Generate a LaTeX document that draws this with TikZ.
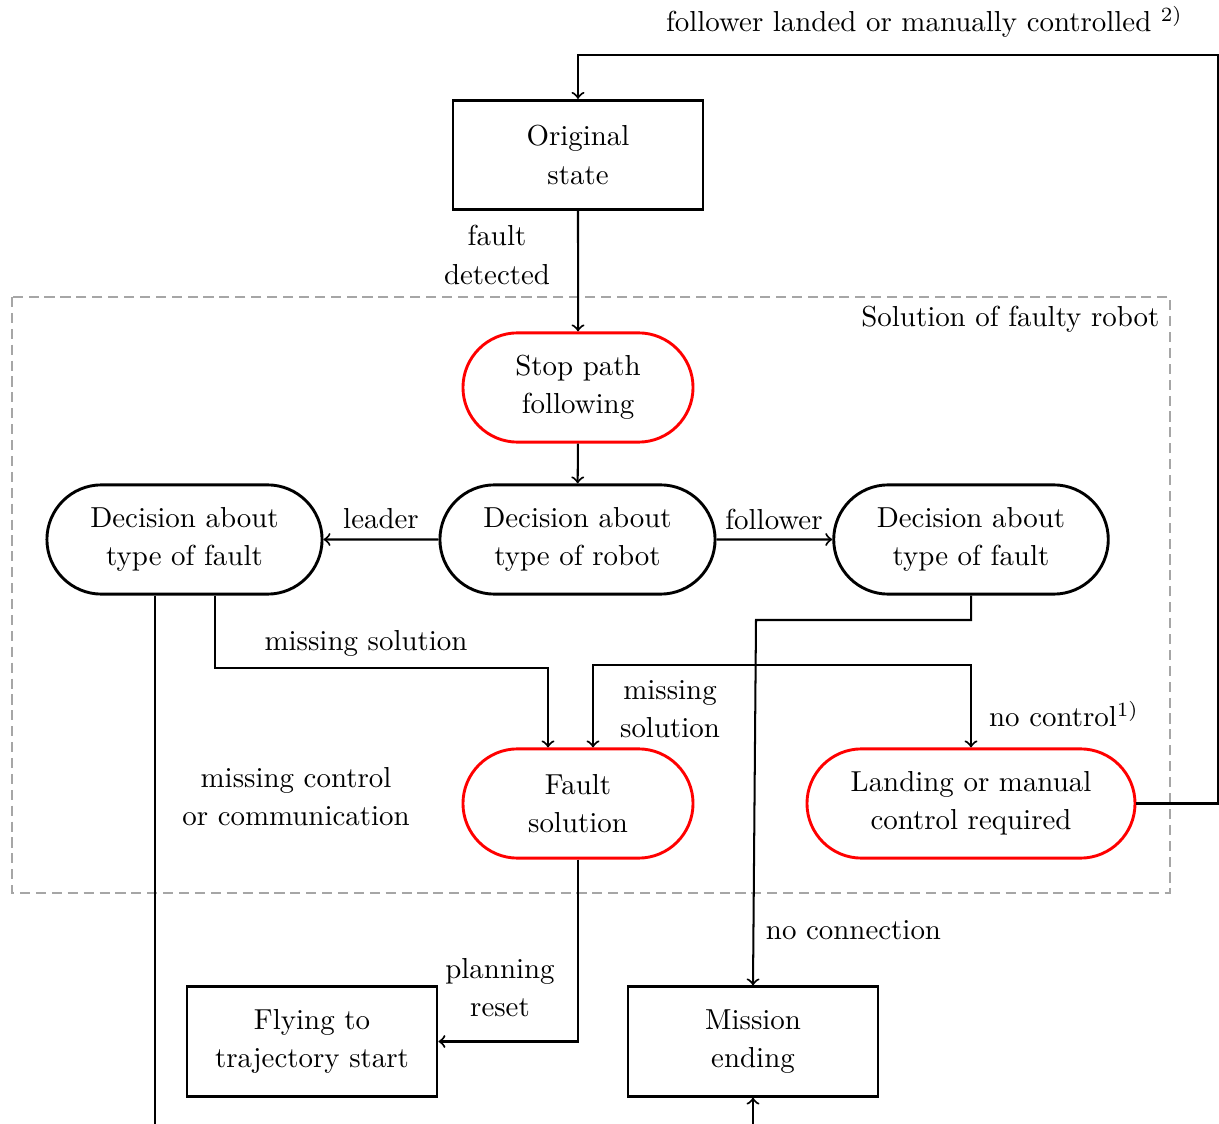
\documentclass[tikz,border=0pt]{standalone}
\usetikzlibrary{shapes.misc,calc}
\begin{document}
\begin{tikzpicture}[x=0.346pt,y=-0.346pt,
  every node/.style={font=\fontsize{10}{13.2}\selectfont, align=center},
  box/.style={draw, line width=1pt, minimum width=86.5pt, minimum height=37.8pt, inner sep=0pt},
  pill/.style={draw, rounded rectangle, line width=1pt, minimum height=37.8pt, inner sep=0pt, minimum width=#1},
  redpill/.style={pill=#1, draw=red},
  arr/.style={->, line width=0.7pt},
  conn/.style={line width=0.7pt},
  lbl/.style={inner sep=0pt},
  region/.style={draw=black!35, line width=0.5pt, dash pattern=on 3.5pt off 2pt}]
\useasboundingbox (0,0) rectangle (1219,1124);

% area of the fault handling
\draw[region] (12,297) rectangle (1170,893);
\node[lbl, anchor=base east] (regiontitle) at (1160,327) {Solution of faulty robot};

% states
\node[box] (orig) at (578,155) {Original\\state};
\node[redpill=79.6pt] (stop) at (578,387.5) {Stop path\\following};
\node[pill=95.2pt] (robot) at (577.5,539.5) {Decision about\\type of robot};
\node[pill=95.2pt] (ldec) at (184.5,539.5) {Decision about\\type of fault};
\node[pill=95pt] (rdec) at (971,539.5) {Decision about\\type of fault};
\node[redpill=79.6pt] (fault) at (578,803.5) {Fault\\solution};
\node[redpill=113.5pt] (land) at (971,803.5) {Landing or manual\\control required};
\node[box] (fly) at (312,1041.5) {Flying to\\trajectory start};
\node[box] (miss) at (753,1041.5) {Mission\\ending};

% bend points and open ends
\coordinate (c1) at (548,668);
\coordinate (c2) at (155,1124);
\coordinate (c3) at (756,620);
\coordinate (c4) at (756,665);
\coordinate (c5) at (1218,55);
\coordinate (c6) at (753,1124);

% transitions
\draw[arr] (orig) -- (stop);
\draw[arr] (stop) -- (robot);
\draw[arr] (robot) -- (ldec);
\draw[arr] (robot) -- (rdec);
\draw[arr] ($(ldec.south)+(30.5,0)$) |- (c1) -- (fault.north -| c1);
\draw[conn] (ldec.south -| c2) -- (c2);
\draw[arr] (rdec.south) |- (c3) -- (miss.north);
\draw[arr] (c4) -| ($(fault.north)+(15,0)$);
\draw[arr] (c4) -| (land.north);
\draw[arr] (land.east) -| (c5) -| (orig.north);
\draw[arr] (fault.south) |- (fly.east);
\draw[arr] (c6) -- (miss.south);

% transition labels
\node[lbl] (lfault) at (497,255) {fault\\detected};
\node[lbl] (lleader) at (381,519) {leader};
\node[lbl] (lfollower) at (774,519) {follower};
\node[lbl] (lmiss1) at (366,643) {missing solution};
\node[lbl] (lcomm) at (296,797) {missing control\\or communication};
\node[lbl] (lmiss2) at (670,709) {missing\\solution};
\node[lbl] (lnoctrl) at (1064,714) {no control$^{1)}$};
\node[lbl] (lnoconn) at (853.5,930) {no connection};
\node[lbl] (lreset) at (500,988) {planning\\reset};
\node[lbl] (llanded) at (924.5,22) {follower landed or manually controlled $^{2)}$};
\end{tikzpicture}
\end{document}
